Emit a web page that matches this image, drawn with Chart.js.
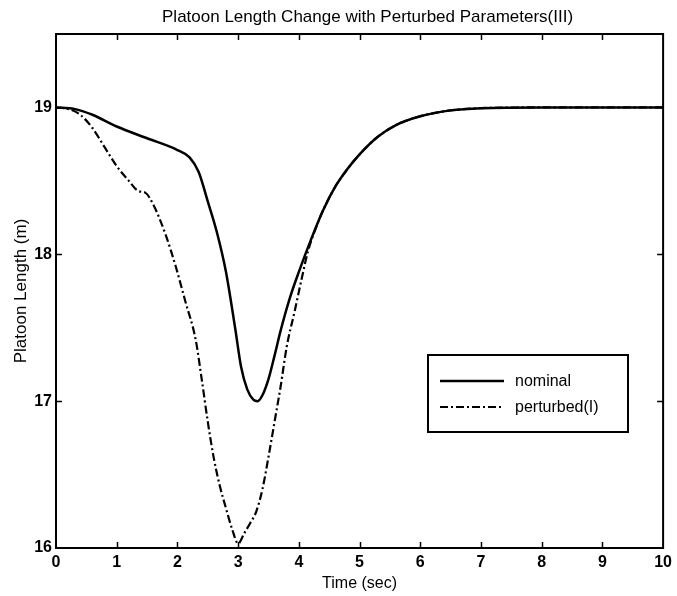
<!DOCTYPE html>
<html>
<head>
<meta charset="utf-8">
<title>Platoon Length Change</title>
<script src="https://cdn.jsdelivr.net/npm/chart.js@4.4.1/dist/chart.umd.min.js"></script>
<style>
  html, body { margin: 0; padding: 0; background: #fff; }
  #wrap { width: 677px; height: 596px; }
</style>
</head>
<body>
<div id="wrap"><canvas id="chart" width="677" height="596"></canvas></div>
<script>
// data
const timeNominal   = [0, 0.3, 0.6, 1.0, 1.5, 2.0, 2.2, 2.35, 2.5, 2.65, 2.8, 2.95, 3.05, 3.15, 3.25, 3.32, 3.4, 3.5, 3.6, 3.7, 3.85, 4.0, 4.2, 4.4, 4.6, 4.8, 5.0, 5.3, 5.6, 6.0, 6.5, 7.0, 8.0, 9.0, 10.0];
const lengthNominal = [19.0, 18.99, 18.95, 18.87, 18.79, 18.71, 18.66, 18.56, 18.36, 18.15, 17.88, 17.5, 17.23, 17.08, 17.01, 17.0, 17.04, 17.15, 17.31, 17.48, 17.7, 17.88, 18.1, 18.3, 18.46, 18.58, 18.68, 18.8, 18.88, 18.94, 18.98, 18.995, 19.0, 19.0, 19.0];

const timePerturbed   = [0, 0.2, 0.4, 0.6, 0.8, 1.0, 1.2, 1.36, 1.47, 1.6, 1.8, 1.97, 2.13, 2.3, 2.4, 2.5, 2.6, 2.7, 2.8, 2.9, 3.0, 3.1, 3.2, 3.3, 3.4, 3.5, 3.6, 3.7, 3.8, 3.93, 4.05, 4.15, 4.3, 4.4, 4.6, 4.8, 5.0, 5.3, 5.6, 6.0, 6.5, 7.0, 8.0, 9.0, 10.0];
const lengthPerturbed = [19.0, 18.99, 18.95, 18.86, 18.73, 18.6, 18.5, 18.43, 18.42, 18.34, 18.14, 17.92, 17.68, 17.42, 17.15, 16.86, 16.61, 16.42, 16.27, 16.13, 16.03, 16.1, 16.17, 16.25, 16.4, 16.62, 16.86, 17.1, 17.37, 17.61, 17.84, 18.02, 18.2, 18.3, 18.46, 18.58, 18.68, 18.8, 18.88, 18.94, 18.98, 18.995, 19.0, 19.0, 19.0];

const seriesNames = ['nominal', 'perturbed(I)'];
const xTickStep = 1;
const yTickStep = 1;

const FONT = "'Liberation Sans', Arial, Helvetica, sans-serif";
const DASHDOT = [8, 3, 2, 3];

const toPoints = (xs, ys) => xs.map((x, i) => ({ x, y: ys[i] }));

// box, inward ticks, title and legend in matlab style
const matlabFrame = {
  id: 'matlabFrame',
  afterDraw(chart) {
    const { ctx, chartArea: ca, scales } = chart;
    ctx.save();
    ctx.strokeStyle = '#000';
    ctx.lineWidth = 2;
    ctx.strokeRect(ca.left, ca.top, ca.right - ca.left, ca.bottom - ca.top);

    const tl = 6;
    ctx.lineWidth = 1.5;
    ctx.beginPath();
    scales.x.ticks.forEach(t => {
      if (t.value <= scales.x.min || t.value >= scales.x.max) return;
      const px = Math.round(scales.x.getPixelForValue(t.value)) + 0.5;
      ctx.moveTo(px, ca.bottom); ctx.lineTo(px, ca.bottom - tl);
      ctx.moveTo(px, ca.top);    ctx.lineTo(px, ca.top + tl);
    });
    scales.y.ticks.forEach(t => {
      if (t.value <= scales.y.min || t.value >= scales.y.max) return;
      const py = Math.round(scales.y.getPixelForValue(t.value)) + 0.5;
      ctx.moveTo(ca.left, py);  ctx.lineTo(ca.left + tl, py);
      ctx.moveTo(ca.right, py); ctx.lineTo(ca.right - tl, py);
    });
    ctx.stroke();

    // title
    ctx.fillStyle = '#000';
    ctx.font = `17px ${FONT}`;
    ctx.textAlign = 'center';
    ctx.textBaseline = 'middle';
    ctx.fillText('Platoon Length Change with Perturbed Parameters(III)', (ca.left + ca.right) / 2 + 8, 17);

    // legend
    const lx = 428, ly = 355, lw = 200, lh = 77;
    ctx.fillStyle = '#fff';
    ctx.fillRect(lx, ly, lw, lh);
    ctx.lineWidth = 2;
    ctx.strokeRect(lx, ly, lw, lh);
    const rows = [ly + 26, ly + 52];
    chart.data.datasets.forEach((ds, i) => {
      ctx.beginPath();
      ctx.setLineDash(ds.borderDash || []);
      ctx.lineWidth = ds.borderWidth;
      ctx.moveTo(lx + 12, rows[i]);
      ctx.lineTo(lx + 76, rows[i]);
      ctx.stroke();
      ctx.setLineDash([]);
      ctx.fillStyle = '#000';
      ctx.font = `16px ${FONT}`;
      ctx.textAlign = 'left';
      ctx.fillText(ds.label, lx + 87, rows[i] + 1);
    });
    ctx.restore();
  }
};

new Chart(document.getElementById('chart'), {
  type: 'line',
  data: {
    datasets: [
      {
        label: seriesNames[0],
        data: toPoints(timeNominal, lengthNominal),
        borderColor: '#000',
        borderWidth: 2.5,
        pointRadius: 0,
        cubicInterpolationMode: 'monotone',
        fill: false
      },
      {
        label: seriesNames[1],
        data: toPoints(timePerturbed, lengthPerturbed),
        borderColor: '#000',
        borderWidth: 2.2,
        borderDash: DASHDOT,
        pointRadius: 0,
        cubicInterpolationMode: 'monotone',
        fill: false
      }
    ]
  },
  options: {
    responsive: false,
    animation: false,
    layout: { padding: { top: 34, right: 10, left: 0, bottom: 0 } },
    plugins: {
      legend: { display: false },
      title: { display: false },
      tooltip: { enabled: false }
    },
    scales: {
      x: {
        type: 'linear',
        min: 0, max: 10,
        ticks: { stepSize: xTickStep, padding: 5, color: '#000', maxRotation: 0, font: { family: FONT, size: 16, weight: 'bold' } },
        grid: { display: false, drawTicks: false },
        border: { display: false },
        title: { display: true, text: 'Time (sec)', color: '#000', font: { family: FONT, size: 16 }, padding: { top: 0, bottom: 3 } },
        afterFit(s) { s.height = 48; }
      },
      y: {
        type: 'linear',
        min: 16, max: 19.5,
        ticks: { stepSize: yTickStep, includeBounds: false, padding: 4, color: '#000', font: { family: FONT, size: 16, weight: 'bold' } },
        grid: { display: false, drawTicks: false },
        border: { display: false },
        title: { display: true, text: 'Platoon Length (m)', color: '#000', font: { family: FONT, size: 17 }, padding: { top: 11, bottom: 0 } },
        afterFit(s) { s.width = 56; }
      }
    }
  },
  plugins: [matlabFrame]
});
</script>
</body>
</html>
